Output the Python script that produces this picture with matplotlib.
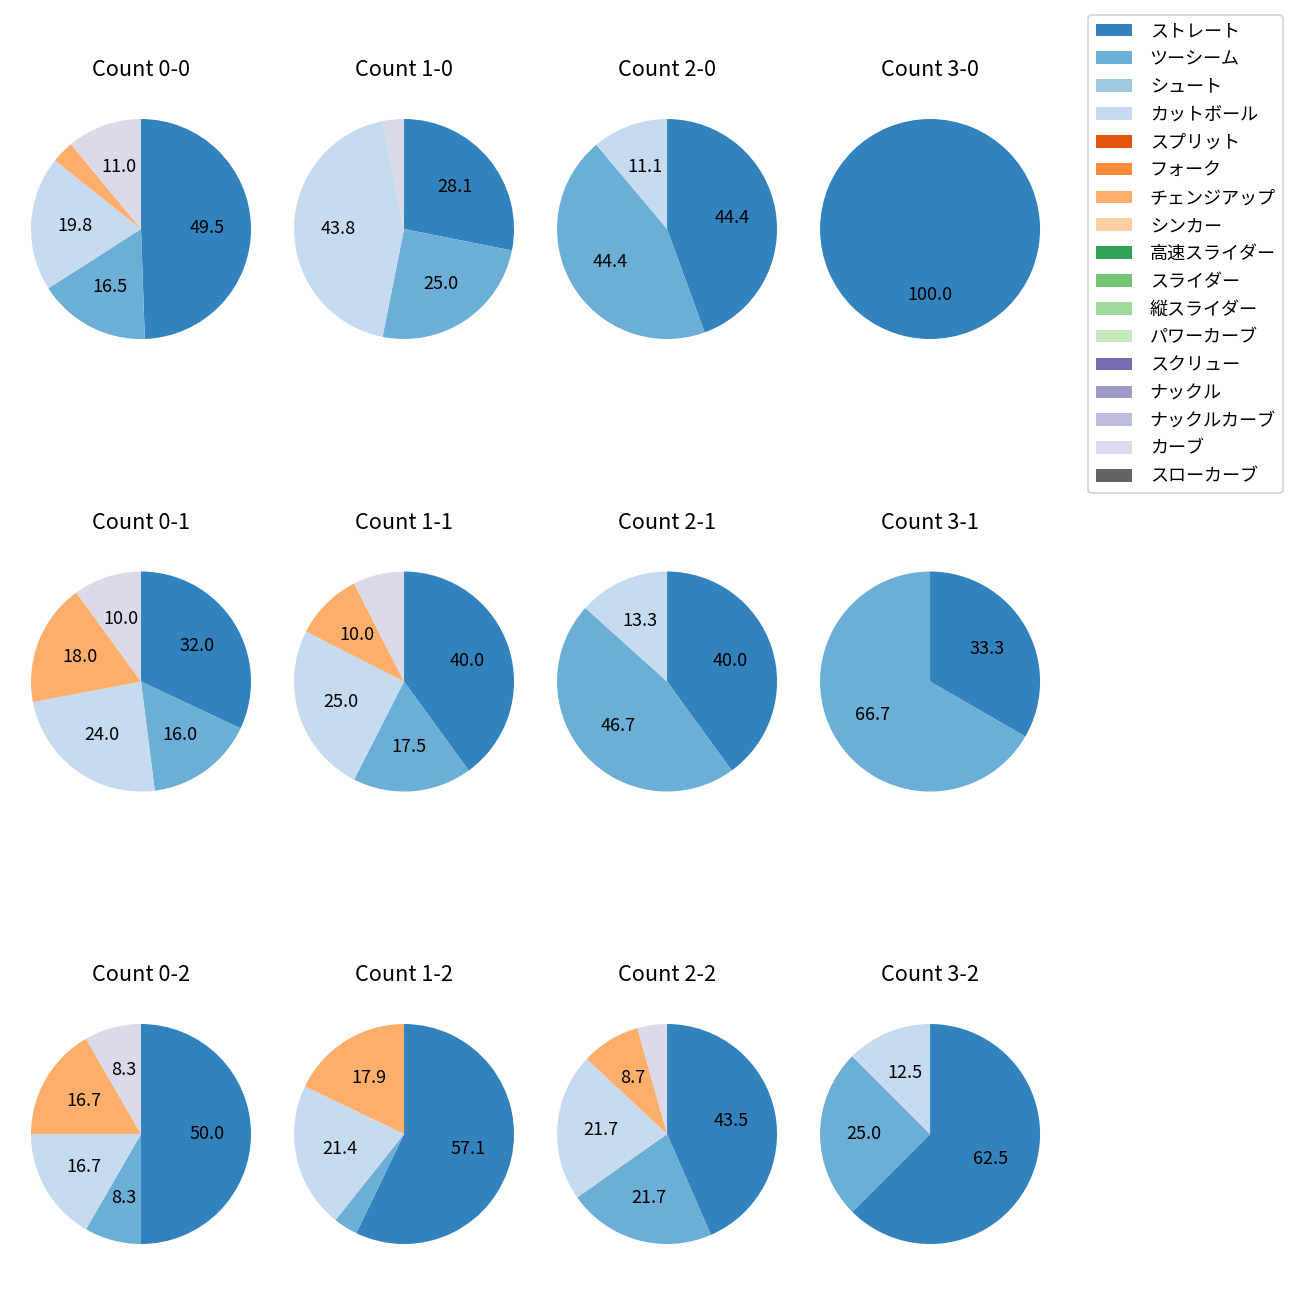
import numpy as np
import matplotlib
matplotlib.use('Agg')
import matplotlib.pyplot as plt

plt.rcParams['font.family'] = ['Noto Sans CJK JP', 'DejaVu Sans']

pitch_names = ['ストレート', 'ツーシーム', 'シュート', 'カットボール', 'スプリット',
               'フォーク', 'チェンジアップ', 'シンカー', '高速スライダー', 'スライダー',
               '縦スライダー', 'パワーカーブ', 'スクリュー', 'ナックル', 'ナックルカーブ',
               'カーブ', 'スローカーブ']

# pitch counts per ball-strike count, in pitch_names order
c_0_0 = [45, 15, 0, 18, 0, 0, 3, 0, 0, 0, 0, 0, 0, 0, 0, 10, 0]
c_1_0 = [9, 8, 0, 14, 0, 0, 0, 0, 0, 0, 0, 0, 0, 0, 0, 1, 0]
c_2_0 = [4, 4, 0, 1, 0, 0, 0, 0, 0, 0, 0, 0, 0, 0, 0, 0, 0]
c_3_0 = [1, 0, 0, 0, 0, 0, 0, 0, 0, 0, 0, 0, 0, 0, 0, 0, 0]
c_0_1 = [16, 8, 0, 12, 0, 0, 9, 0, 0, 0, 0, 0, 0, 0, 0, 5, 0]
c_1_1 = [16, 7, 0, 10, 0, 0, 4, 0, 0, 0, 0, 0, 0, 0, 0, 3, 0]
c_2_1 = [6, 7, 0, 2, 0, 0, 0, 0, 0, 0, 0, 0, 0, 0, 0, 0, 0]
c_3_1 = [1, 2, 0, 0, 0, 0, 0, 0, 0, 0, 0, 0, 0, 0, 0, 0, 0]
c_0_2 = [6, 1, 0, 2, 0, 0, 2, 0, 0, 0, 0, 0, 0, 0, 0, 1, 0]
c_1_2 = [16, 1, 0, 6, 0, 0, 5, 0, 0, 0, 0, 0, 0, 0, 0, 0, 0]
c_2_2 = [10, 5, 0, 5, 0, 0, 2, 0, 0, 0, 0, 0, 0, 0, 0, 1, 0]
c_3_2 = [5, 2, 0, 1, 0, 0, 0, 0, 0, 0, 0, 0, 0, 0, 0, 0, 0]

grid = [[('0-0', c_0_0), ('1-0', c_1_0), ('2-0', c_2_0), ('3-0', c_3_0)],
        [('0-1', c_0_1), ('1-1', c_1_1), ('2-1', c_2_1), ('3-1', c_3_1)],
        [('0-2', c_0_2), ('1-2', c_1_2), ('2-2', c_2_2), ('3-2', c_3_2)]]

colors = plt.get_cmap('tab20c')(np.arange(17))

def fmt(p):
    return '%.1f' % p if p > 8 else ''

fig, axes = plt.subplots(3, 4, figsize=(10, 10))
wedges0 = None
for r in range(3):
    for c in range(4):
        ax = axes[r][c]
        name, vals = grid[r][c]
        w, t, a = ax.pie(vals, colors=colors, startangle=90, counterclock=False,
                         autopct=fmt, pctdistance=0.6)
        ax.set_title('Count ' + name, pad=8.5)
        if wedges0 is None:
            wedges0 = w

plt.subplots_adjust(left=0.0027, right=0.8212, bottom=0.0219, top=0.9296,
                    wspace=-0.0436, hspace=0.6455)
fig.legend(wedges0, pitch_names, loc='upper right', bbox_to_anchor=(0.9938, 0.9954),
           labelspacing=0.545, handletextpad=1.0)
plt.savefig('out.png', dpi=130)
